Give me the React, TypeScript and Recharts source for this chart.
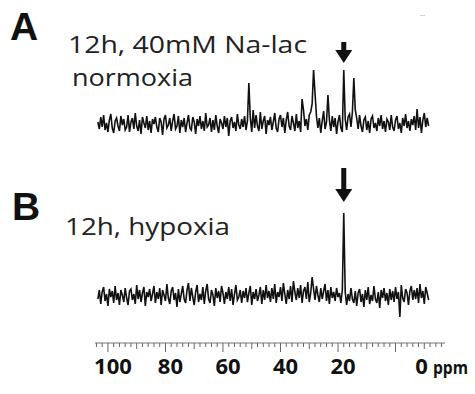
import { LineChart, Line, XAxis, YAxis, ReferenceDot } from 'recharts'

// chemical shift sampling (ppm), left to right
const ppmStart = 103.5
const ppmStep = 0.5

// A: 12h, 40mM Na-lac, normoxia
const specA = [
  2, -5, 7, -3, 9, -6, 1, -8, 4, 10, -4, -9, 3, 6, -2, -7, 8, -1, 5, -6,
  -3, 9, -8, 2, 6, -5, 11, -2, -7, 4, -10, 7, 1, -4, 8, -6, 3, -9, 5, 0,
  7, -3, -8, 6, 2, -11, 5, 9, -4, -1, 6, -7, 3, 10, -5, -2, 8, -9, 4, -3,
  6, -8, 1, 9, -4, -6, 7, 2, -10, 5, -2, 8, -5, 3, -7, 11, -3, -1, 6, -8,
  4, -6, 9, -2, -9, 5, 1, -5, 8, -3, 6, -12, 3, 7, -4, 2, -7, 10, -1, -5,
  5, -3, 8, -6, 3, 41, 6, -8, 14, -4, 9, -2, -7, 12, -5, 3, 8, -10, 4, -1,
  7, -6, 2, 11, -4, -8, 5, 9, -3, 6, -9, 4, 12, -2, -6, 8, 1, -7, 10, -4,
  3, -8, 25, 14, -2, 5, -6, 9, 12, 20, 54, 31, 8, -4, 6, -9, 3, 13, -5, 2,
  29, 4, -7, 8, -3, 6, -10, 2, 9, -4, -8, 54, 5, -6, 7, 10, -3, 12, 46, 14,
  6, -5, 9, -2, -8, 4, 7, -6, 3, -9, 5, 8, -4, 1, -7, 6, -2, 9, -5, 3,
  -8, 5, 2, -6, 9, -3, -7, 4, 8, -5, 1, -9, 6, -2, 10, -4, 3, -7, 5, -1,
  8, -6, 15, -4, 7, -9, 4, 11, -3, 6, -2,
]

// B: 12h, hypoxia
const specB = [
  -3, 6, -8, 4, 9, -5, 2, -10, 7, -1, 5, -7, 10, -4, 3, -9, 6, 1, -6, 8,
  -2, -9, 5, 7, -4, 2, -8, 11, -3, 6, -6, 3, 9, -10, 4, -1, 7, -5, 2, 10,
  -7, 4, -3, 8, -9, 6, 1, -5, 12, -2, -8, 5, 9, -4, 3, -11, 7, -6, 2, 10,
  -3, -7, 6, 13, -5, 8, -1, -9, 4, 11, -6, 2, -4, 9, -8, 5, 12, -3, -7, 6,
  1, -10, 8, -2, 5, -6, 10, 3, -8, 4, -3, 9, -5, 7, -9, 2, 11, -4, -1, 6,
  -7, 5, -2, 8, -6, 3, 10, -9, 4, -3, 7, -5, 1, 9, -8, 6, -4, 11, -2, 5,
  -6, 8, -3, 12, -7, 4, -1, 9, -5, 13, 2, -8, 6, -3, 10, -6, 15, 4, -4, 8,
  -2, 11, -7, 5, 9, -3, 14, -6, 3, 19, 7, -4, 10, 1, -6, 8, -3, 5, 12, -5,
  6, -8, 9, -2, 4, -5, 8, -1, 3, -7, 6, 83, 4, -9, 2, -5, 8, -3, -7, 5,
  -10, 3, 7, -6, 2, -11, 6, -4, 9, -8, 1, -5, 10, -3, -7, 4, -12, 6, -2, 8,
  -5, 3, -9, 7, -4, 5, -6, 9, -3, 4, -21, 11, -2, -6, 7, 3, -9, 5, 10, -4,
  6, -3, 8, -7, 12, -2, 5, -8, 9, 3, -4,
]

const labeledTicks = [100, 80, 60, 40, 20, 0]
const arrowPpm = 18

// vertical stacking of the two spectra
const offsetA = 219
const offsetB = 47

const rulerTicks: number[] = []
for (let v = 104; v >= -16; v -= 2) rulerTicks.push(v)

const data = specA.map((v, i) => ({
  ppm: ppmStart - i * ppmStep,
  a: v + offsetA,
  b: (specB[i] ?? 0) + offsetB,
}))

const RulerTick = (props: any) => {
  const { x, y, payload } = props
  const v = payload.value
  const len = v % 20 === 0 ? 9 : v % 10 === 0 ? 6 : 4
  const showLabel = labeledTicks.includes(v)
  return (
    <g>
      <line x1={x} x2={x} y1={y} y2={y + len} stroke="#666" strokeWidth={1} />
      {showLabel && (
        <text
          x={x + (v === 0 ? 26 : 5)}
          y={y + 31}
          textAnchor="middle"
          fontFamily="'Open Sans', sans-serif"
          fontWeight={700}
          fontSize={22}
          fill="#111"
        >
          {v}
        </text>
      )}
    </g>
  )
}

const Arrow = ({ cx, cy, len }: { cx: number; cy: number; len: number }) => (
  <g>
    <rect x={cx - 2.5} y={cy - len} width={5} height={len - 10} fill="#111" />
    <polygon points={`${cx - 8.5},${cy - 13} ${cx + 8.5},${cy - 13} ${cx},${cy}`} fill="#111" />
  </g>
)

export default function App() {
  const font = "'Open Sans', sans-serif"
  return (
    <div style={{ position: 'relative', width: 475, height: 394, background: '#fff' }}>
      <style>{'body{margin:0}'}</style>
      <LineChart
        width={475}
        height={394}
        data={data}
        margin={{ top: 40, right: 30, bottom: 0, left: 95 }}
      >
        <XAxis
          dataKey="ppm"
          type="number"
          domain={[-17.2, 104.5]}
          reversed
          ticks={rulerTicks}
          interval={0}
          tickSize={0}
          tickMargin={0}
          tickLine={false}
          height={51}
          axisLine={{ stroke: '#777' }}
          tick={<RulerTick />}
        />
        <YAxis hide type="number" domain={[0, 303]} />
        <Line
          dataKey="a"
          type="linear"
          stroke="#111"
          strokeWidth={1.6}
          dot={false}
          isAnimationActive={false}
        />
        <Line
          dataKey="b"
          type="linear"
          stroke="#111"
          strokeWidth={1.6}
          dot={false}
          isAnimationActive={false}
        />
        <ReferenceDot
          x={arrowPpm}
          y={280}
          shape={(p: any) => <Arrow cx={p.cx} cy={p.cy} len={21} />}
        />
        <ReferenceDot
          x={arrowPpm}
          y={141}
          shape={(p: any) => <Arrow cx={p.cx} cy={p.cy} len={34} />}
        />
      </LineChart>
      <svg
        width={475}
        height={394}
        style={{ position: 'absolute', left: 0, top: 0, pointerEvents: 'none' }}
      >
        <text x={10} y={40} fontFamily="'Liberation Sans', Arial, sans-serif" fontWeight={700} fontSize={39} fill="#111">
          A
        </text>
        <text x={68} y={53} fontFamily={font} fontSize={24} fill="#222" textLength={239} lengthAdjust="spacingAndGlyphs">
          12h, 40mM Na-lac
        </text>
        <text x={72} y={86} fontFamily={font} fontSize={24} fill="#222" textLength={121} lengthAdjust="spacingAndGlyphs">
          normoxia
        </text>
        <text x={12} y={220} fontFamily="'Liberation Sans', Arial, sans-serif" fontWeight={700} fontSize={39} fill="#111">
          B
        </text>
        <text x={65} y={235} fontFamily={font} fontSize={24} fill="#222" textLength={165} lengthAdjust="spacingAndGlyphs">
          12h, hypoxia
        </text>
        <text x={433} y={374} fontFamily={font} fontWeight={700} fontSize={18} fill="#111" textLength={35} lengthAdjust="spacingAndGlyphs">
          ppm
        </text>
        <text x={420} y={17} fontFamily={font} fontSize={8} fill="#999">
          --
        </text>
      </svg>
    </div>
  )
}
